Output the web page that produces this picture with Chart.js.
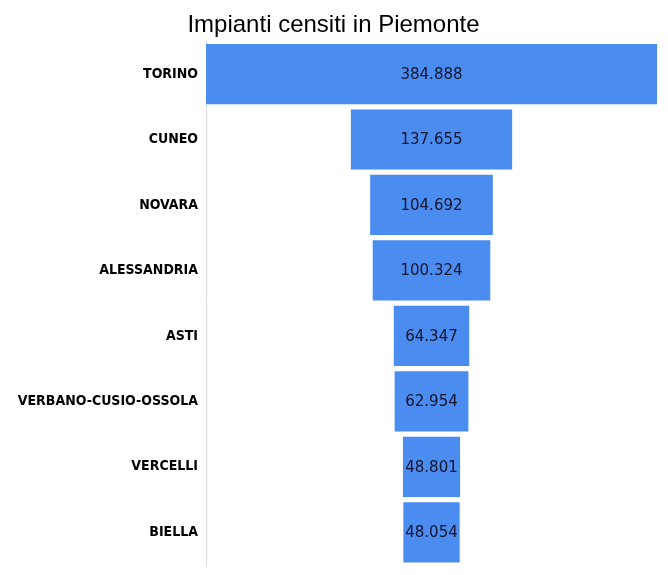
<!DOCTYPE html>
<html>
<head>
<meta charset="utf-8">
<script src="https://cdn.jsdelivr.net/npm/chart.js@4/dist/chart.umd.min.js"></script>
<style>
  html, body { margin: 0; padding: 0; background: #fff; }
  #wrap { width: 668px; height: 575px; }
</style>
</head>
<body>
<div id="wrap"><canvas id="myChart"></canvas></div>
<script>
const province = ['TORINO', 'CUNEO', 'NOVARA', 'ALESSANDRIA', 'ASTI', 'VERBANO-CUSIO-OSSOLA', 'VERCELLI', 'BIELLA'];
const impianti = [384888, 137655, 104692, 100324, 64347, 62954, 48801, 48054];

// funnel: each bar is centred on half of the biggest value
const maxVal = Math.max(...impianti);
const centre = maxVal / 2;
const funnel = impianti.map(v => [centre - v / 2, centre + v / 2]);

function fmt(n) {
  return String(n).replace(/\B(?=(\d{3})+(?!\d))/g, '.');
}

const valueLabels = {
  id: 'valueLabels',
  afterDatasetsDraw(chart) {
    const ctx = chart.ctx;
    const meta = chart.getDatasetMeta(0);
    ctx.save();
    ctx.font = '15px "DejaVu Sans", sans-serif';
    ctx.fillStyle = '#14142a';
    ctx.textAlign = 'center';
    ctx.textBaseline = 'middle';
    meta.data.forEach((bar, i) => {
      const p = bar.getProps(['x', 'base', 'y'], true);
      ctx.fillText(fmt(impianti[i]), (p.x + p.base) / 2, p.y + 1);
    });
    ctx.restore();
  }
};

const data = {
  labels: province,
  datasets: [{
    label: 'Impianti',
    data: funnel,
    backgroundColor: '#4a8cef',
    borderWidth: 0,
    barPercentage: 0.92,
    categoryPercentage: 1.0
  }]
};

const config = {
  type: 'bar',
  data: data,
  options: {
    indexAxis: 'y',
    responsive: true,
    maintainAspectRatio: false,
    animation: false,
    layout: {
      padding: { left: 10, right: 11, top: 11, bottom: 10 }
    },
    plugins: {
      legend: { display: false },
      tooltip: { enabled: false },
      title: {
        display: true,
        text: 'Impianti censiti in Piemonte',
        color: '#000',
        font: { family: '"Liberation Sans", Arial, sans-serif', size: 24, weight: 'normal' },
        padding: { top: 0, bottom: 1.5 }
      }
    },
    scales: {
      x: {
        display: false,
        min: 0,
        max: maxVal
      },
      y: {
        grid: { display: false, drawTicks: false },
        border: { display: true, color: '#d9d9d9', width: 1 },
        afterFit(scale) {
          scale.width = 196;
          scale.paddingTop = 0;
          scale.paddingBottom = 0;
        },
        ticks: {
          color: '#000',
          padding: 8,
          font: { family: '"Liberation Sans Narrow", "DejaVu Sans Condensed", sans-serif', size: 14, weight: 'bold' }
        }
      }
    }
  },
  plugins: [valueLabels]
};

const myChart = new Chart(document.getElementById('myChart'), config);
</script>
</body>
</html>
